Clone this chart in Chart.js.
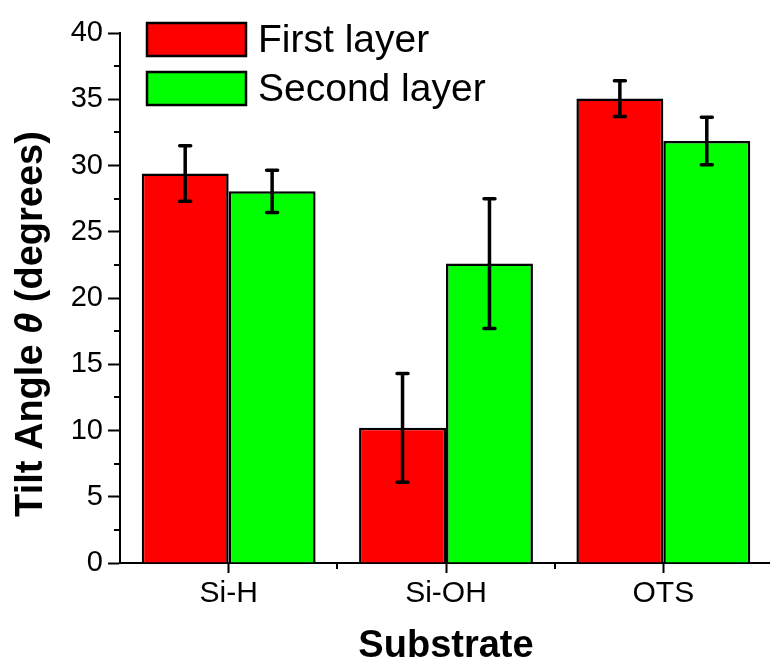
<!DOCTYPE html>
<html>
<head>
<meta charset="utf-8">
<script src="https://cdn.jsdelivr.net/npm/chart.js@4/dist/chart.umd.min.js"></script>
<style>
  html, body { margin: 0; padding: 0; background: #fff; overflow: hidden; }
  #wrap { position: relative; width: 772px; height: 666px; }
</style>
</head>
<body>
<div id="wrap"><canvas id="chart"></canvas></div>
<script>
// Data
const categories = ["Si-H", "Si-OH", "OTS"];
const firstLayer = [29.4, 10.2, 35.05];
const firstErr = [2.1, 4.1, 1.35];
const secondLayer = [28.05, 22.6, 31.85];
const secondErr = [1.6, 4.9, 1.8];
const seriesNames = ["First layer", "Second layer"];
const yMin = 0;
const yMax = 40;
const yStep = 5;

const FONT = "'Liberation Sans', Arial, sans-serif";

// error bars, drawn through the scales
const errorBars = {
  id: "errorBars",
  afterDatasetsDraw(chart) {
    const ctx = chart.ctx;
    const y = chart.scales.y;
    ctx.save();
    ctx.strokeStyle = "#000";
    ctx.lineWidth = 3.5;
    ctx.lineCap = "round";
    chart.data.datasets.forEach((ds, i) => {
      const meta = chart.getDatasetMeta(i);
      meta.data.forEach((bar, j) => {
        const v = ds.data[j];
        const e = ds.errors[j];
        const top = y.getPixelForValue(v + e);
        const bot = y.getPixelForValue(v - e);
        ctx.beginPath();
        ctx.moveTo(bar.x, top);
        ctx.lineTo(bar.x, bot);
        ctx.moveTo(bar.x - 5.5, top);
        ctx.lineTo(bar.x + 5.5, top);
        ctx.moveTo(bar.x - 5.5, bot);
        ctx.lineTo(bar.x + 5.5, bot);
        ctx.stroke();
      });
    });
    ctx.restore();
  },
};

// minor ticks, legend and the y title with an italic theta
const decorations = {
  id: "decorations",
  afterDraw(chart) {
    const ctx = chart.ctx;
    const { x, y } = chart.scales;
    const area = chart.chartArea;
    ctx.save();
    ctx.strokeStyle = "#000";
    ctx.lineWidth = 2;

    // y minor ticks
    for (let v = yMin + yStep / 2; v < yMax; v += yStep) {
      const py = Math.round(y.getPixelForValue(v));
      ctx.beginPath();
      ctx.moveTo(area.left - 6, py);
      ctx.lineTo(area.left, py);
      ctx.stroke();
    }
    // x minor ticks between categories
    for (let i = 0; i < categories.length - 1; i++) {
      const px = Math.round((x.getPixelForValue(i) + x.getPixelForValue(i + 1)) / 2);
      ctx.beginPath();
      ctx.moveTo(px, area.bottom);
      ctx.lineTo(px, area.bottom + 6);
      ctx.stroke();
    }

    // legend
    ctx.lineWidth = 2.5;
    const boxes = [{ top: 23 }, { top: 72 }];
    chart.data.datasets.forEach((ds, i) => {
      const b = boxes[i];
      ctx.fillStyle = ds.backgroundColor;
      ctx.fillRect(147, b.top, 99, 33);
      ctx.strokeRect(147, b.top, 99, 33);
      ctx.fillStyle = "#000";
      ctx.font = "39px " + FONT;
      ctx.textBaseline = "middle";
      ctx.textAlign = "left";
      ctx.fillText(ds.label, 258, b.top + 18);
    });

    // y axis title
    const parts = [
      { t: "Tilt Angle ", f: "bold 38px " + FONT },
      { t: "\u03B8", f: "italic bold 38px " + FONT },
      { t: " (degrees)", f: "bold 38px " + FONT },
    ];
    let total = 0;
    parts.forEach((p) => {
      ctx.font = p.f;
      p.w = ctx.measureText(p.t).width;
      total += p.w;
    });
    ctx.translate(32, 324);
    ctx.rotate(-Math.PI / 2);
    ctx.fillStyle = "#000";
    ctx.textBaseline = "middle";
    ctx.textAlign = "left";
    let cx = -total / 2;
    parts.forEach((p) => {
      ctx.font = p.f;
      ctx.fillText(p.t, cx, 0);
      cx += p.w;
    });
    ctx.restore();
  },
};

new Chart(document.getElementById("chart"), {
  type: "bar",
  data: {
    labels: categories,
    datasets: [
      {
        label: seriesNames[0],
        data: firstLayer,
        errors: firstErr,
        backgroundColor: "#ff0000",
        borderColor: "#000",
        borderWidth: 2.5,
      },
      {
        label: seriesNames[1],
        data: secondLayer,
        errors: secondErr,
        backgroundColor: "#00ff00",
        borderColor: "#000",
        borderWidth: 2.5,
      },
    ],
  },
  options: {
    responsive: true,
    maintainAspectRatio: false,
    animation: false,
    categoryPercentage: 0.8,
    barPercentage: 1.0,
    layout: { padding: { top: 33, left: 0, right: 0, bottom: 0 } },
    plugins: {
      legend: { display: false },
      tooltip: { enabled: false },
    },
    scales: {
      x: {
        grid: {
          offset: false,
          drawOnChartArea: false,
          tickLength: 10,
          tickWidth: 2,
          tickColor: "#000",
        },
        border: { display: true, color: "#000", width: 2 },
        ticks: {
          color: "#000",
          padding: 3,
          maxRotation: 0,
          font: { family: FONT, size: 30 },
        },
        title: {
          display: true,
          text: "Substrate",
          color: "#000",
          padding: { top: 0, bottom: 0 },
          font: { family: FONT, size: 38, weight: "bold", lineHeight: 1 },
        },
        afterFit(scale) {
          scale.height = 103;
        },
      },
      y: {
        min: yMin,
        max: yMax,
        grid: {
          drawOnChartArea: false,
          tickLength: 12,
          tickWidth: 2,
          tickColor: "#000",
        },
        border: { display: true, color: "#000", width: 2 },
        ticks: {
          stepSize: yStep,
          color: "#000",
          padding: 5,
          font: { family: FONT, size: 29 },
        },
        afterFit(scale) {
          scale.width = 120;
        },
      },
    },
  },
  plugins: [errorBars, decorations],
});
</script>
</body>
</html>
